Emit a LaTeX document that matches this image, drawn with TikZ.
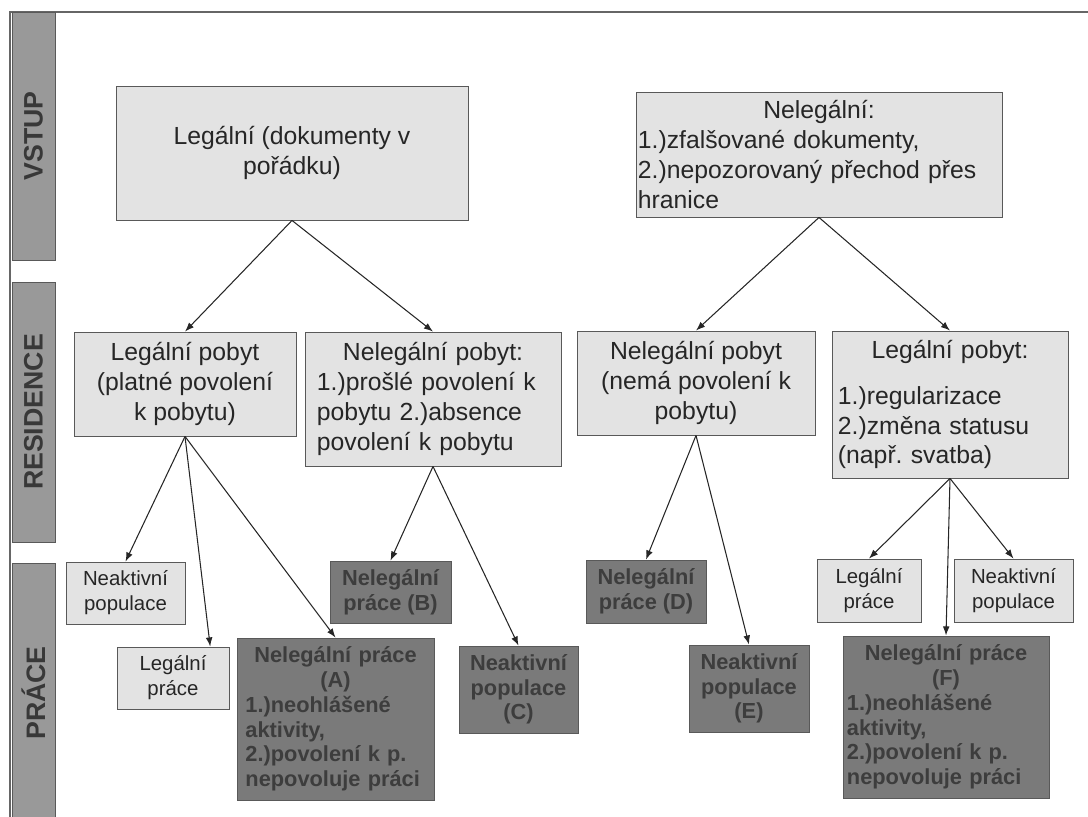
\documentclass[tikz,border=0pt]{standalone}
\usepackage{fontspec}
\setmainfont{Liberation Sans}
\usepackage{tikz}
\usetikzlibrary{arrows.meta, positioning, calc}
\frenchspacing

\begin{document}
\begin{tikzpicture}[x=0.025cm, y=-0.025cm, >={Latex[length=6.5pt, width=4.8pt]},
    band/.style={draw=black!65, fill=black!40, rotate=90, minimum height=1.075cm, inner sep=0pt,
        text=black!78, font=\fontsize{19}{22}\selectfont\bfseries},
    lightbox/.style={draw=black!65, fill=black!11, line width=0.6pt, text=black!85,
        font=\fontsize{17.6}{21.3}\selectfont},
    smallbox/.style={lightbox, font=\fontsize{14.5}{17.7}\selectfont, align=center},
    darkbox/.style={draw=black!65, fill=black!52, line width=0.6pt, text=black!76,
        font=\fontsize{15.5}{17.6}\selectfont\bfseries},
    arrow/.style={->, draw=black!85, line width=0.75pt}]
    \useasboundingbox (0,0) rectangle (1088,817);

    % ramecek
    \draw[black!60, line width=0.9pt] (1088,12) -- (10,12) -- (10,817);

    % pruhy vlevo
    \node[band, minimum width=6.2cm] (vstup) at (33.5,136) {VSTUP};
    \node[band, minimum width=6.5cm] (residence) at (33.5,412) {RESIDENCE};
    \node[band, minimum width=6.5cm] (prace) at (33.5,693) {PRÁCE};

    % vstup
    \node[lightbox, minimum width=8.8cm, minimum height=3.35cm, align=center] (legal) at (292,153)
        {Legální (dokumenty v\\pořádku)};
    \node[lightbox, minimum width=9.15cm, minimum height=3.125cm, text width=9.05cm,
        inner xsep=0.05cm, align=left] (ilegal) at (819,154.5)
        {\makebox[\hsize]{Nelegální:}\\1.)zfalšované dokumenty,\\2.)nepozorovaný přechod přes\\hranice};

    % residence
    \node[lightbox, minimum width=5.55cm, minimum height=2.6cm, align=center] (pobyt1) at (185,384)
        {Legální pobyt\\(platné povolení\\k pobytu)};
    \node[lightbox, minimum width=6.4cm, minimum height=3.35cm, text width=5.8cm,
        inner xsep=0.3cm, align=left] (pobyt2) at (433,399)
        {\makebox[\hsize]{Nelegální pobyt:}\\1.)prošlé povolení k\\pobytu 2.)absence\\povolení k pobytu};
    \node[lightbox, minimum width=5.95cm, minimum height=2.6cm, align=center] (pobyt3) at (696,383)
        {Nelegální pobyt\\(nemá povolení k\\pobytu)};
    \node[lightbox, minimum width=5.9cm, minimum height=3.675cm, text width=5.6cm,
        inner xsep=0.15cm, align=left] (pobyt4) at (950,404.5)
        {\makebox[\hsize]{Legální pobyt:}\\[0.4cm]1.)regularizace\\2.)změna statusu\\(např. svatba)};

    % prace
    \node[smallbox, minimum width=2.975cm, minimum height=1.55cm] (neak1) at (125.5,593) {Neaktivní\\populace};
    \node[smallbox, minimum width=2.8cm, minimum height=1.55cm] (legp1) at (173,678) {Legální\\práce};
    \node[darkbox, minimum width=4.925cm, minimum height=4.05cm, text width=4.5cm,
        inner xsep=0.21cm, align=left] (ilA) at (335.5,719)
        {\makebox[\hsize]{Nelegální práce}\\\makebox[\hsize]{(A)}\\1.)neohlášené\\aktivity,\\2.)povolení k p.\\nepovoluje práci};
    \node[darkbox, minimum width=3.025cm, minimum height=1.55cm, align=center] (ilB) at (390.5,592) {Nelegální\\práce (B)};
    \node[darkbox, minimum width=2.975cm, minimum height=2.175cm, align=center] (neakC) at (518.5,689.5) {Neaktivní\\populace\\(C)};
    \node[darkbox, minimum width=3.0cm, minimum height=1.575cm, align=center] (ilD) at (646,591.5) {Nelegální\\práce (D)};
    \node[darkbox, minimum width=3.0cm, minimum height=2.175cm, align=center] (neakE) at (749,688.5) {Neaktivní\\populace\\(E)};
    \node[smallbox, minimum width=2.6cm, minimum height=1.575cm] (legp2) at (869,590.5) {Legální\\práce};
    \node[smallbox, minimum width=2.975cm, minimum height=1.575cm] (neak2) at (1013.5,590.5) {Neaktivní\\populace};
    \node[darkbox, minimum width=5.15cm, minimum height=4.05cm, text width=4.95cm,
        inner xsep=0.1cm, align=left] (ilF) at (946,717)
        {\makebox[\hsize]{Nelegální práce}\\\makebox[\hsize]{(F)}\\1.)neohlášené\\aktivity,\\2.)povolení k p.\\nepovoluje práci};

    % sipky
    \draw[arrow] (legal.south) -- (pobyt1.north);
    \draw[arrow] (legal.south) -- (pobyt2.north);
    \draw[arrow] (ilegal.south) -- (pobyt3.north);
    \draw[arrow] (ilegal.south) -- (pobyt4.north);

    \draw[arrow] (pobyt1.south) -- (neak1.north);
    \draw[arrow] (pobyt1.south) -- ([xshift=0.93cm]legp1.north);
    \draw[arrow] (pobyt1.south) -- (ilA.north);
    \draw[arrow] (pobyt2.south) -- (ilB.north);
    \draw[arrow] (pobyt2.south) -- (neakC.north);
    \draw[arrow] (pobyt3.south) -- (ilD.north);
    \draw[arrow] (pobyt3.south) -- (neakE.north);
    \draw[arrow] (pobyt4.south) -- (legp2.north);
    \draw[arrow] (pobyt4.south) -- (ilF.north);
    \draw[arrow] (pobyt4.south) -- (neak2.north);

\end{tikzpicture}
\end{document}
